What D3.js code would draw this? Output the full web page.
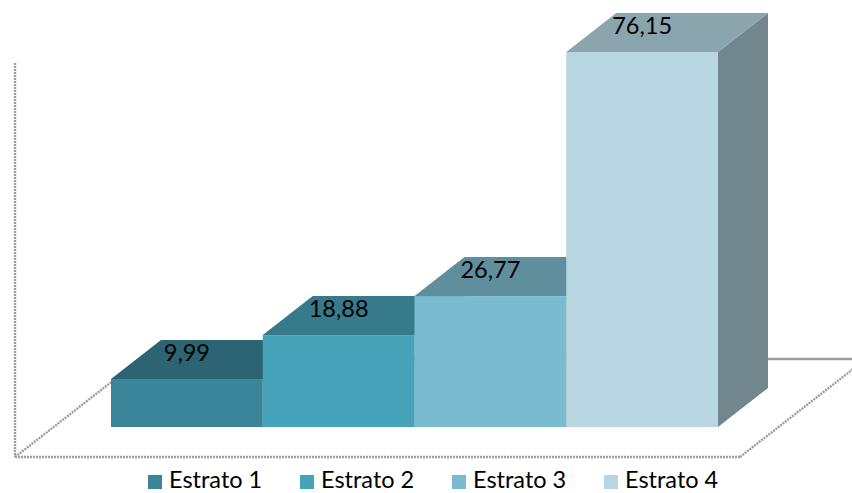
<!DOCTYPE html>
<html>
<head>
<meta charset="utf-8">
<script src="https://cdn.jsdelivr.net/npm/d3@7"></script>
<style>
  html, body { margin: 0; padding: 0; background: #ffffff; }
  svg { display: block; }
  text { font-family: Lato, "Open Sans", sans-serif; fill: #000; }
</style>
</head>
<body>
<svg id="chart" width="852" height="493"></svg>
<script>
const categories = ["Estrato 1", "Estrato 2", "Estrato 3", "Estrato 4"];
const values = [9.99, 18.88, 26.77, 76.15];
const valueLabels = ["9,99", "18,88", "26,77", "76,15"];
const frontColors = ["#3b8599", "#47a3ba", "#7bbbd0", "#b7d6e1"];
const topColors = ["#2c6474", "#377a8b", "#5f8f9d", "#8ba5af"];
const sideColors = ["#2a5d6b", "#35788a", "#5e8a98", "#71878d"];

const W = 852, H = 493;
const svg = d3.select("#chart");

// oblique depth offset
const dx = 50, dy = 39;
const base = 427;

const x = d3.scaleBand().domain(categories).range([111, 718]).padding(0);
const y = d3.scaleLinear().domain([0, 80]).range([428.4, 33]);

// floor & axis
const floorDepthX = 126, floorDepthY = 98;
const F0 = [15, 457], F1 = [740, 457];
const B0 = [F0[0] + floorDepthX, F0[1] - floorDepthY];
const B1 = [F1[0] + floorDepthX, F1[1] - floorDepthY];
const gridColor = "#9c9c9c";
const lines = [
  [F0, F1], [F0, B0], [F1, B1], [B0, B1], [[15, 63], F0]
];
svg.append("g").selectAll("line").data(lines).join("line")
  .attr("x1", d => d[0][0]).attr("y1", d => d[0][1])
  .attr("x2", d => d[1][0]).attr("y2", d => d[1][1])
  .attr("stroke", gridColor)
  .attr("stroke-width", 2.4)
  .attr("stroke-dasharray", (d, i) => i === 3 ? null : "2,1");

// bars
const bars = svg.append("g").selectAll("g").data(categories).join("g");
bars.each(function (c, i) {
  const g = d3.select(this);
  const x0 = x(c), x1 = x(c) + x.bandwidth();
  const yt = y(values[i]);
  // side
  g.append("polygon")
    .attr("points", [[x1, yt], [x1 + dx, yt - dy], [x1 + dx, base - dy], [x1, base]].map(p => p.join(",")).join(" "))
    .attr("fill", sideColors[i]);
  // top
  g.append("polygon")
    .attr("points", [[x0, yt], [x0 + dx, yt - dy], [x1 + dx, yt - dy], [x1, yt]].map(p => p.join(",")).join(" "))
    .attr("fill", topColors[i]);
  // front
  g.append("rect")
    .attr("x", x0).attr("y", yt)
    .attr("width", x.bandwidth()).attr("height", base - yt)
    .attr("fill", frontColors[i]);
});

// value labels
svg.append("g").selectAll("text").data(categories).join("text")
  .attr("x", c => x(c) + x.bandwidth() / 2)
  .attr("y", (c, i) => y(values[i]) - dy + 21)
  .attr("text-anchor", "middle")
  .attr("font-size", 23.5)
  .text((c, i) => valueLabels[i]);

// legend
const legend = svg.append("g").selectAll("g").data(categories).join("g")
  .attr("transform", (c, i) => `translate(${148 + i * 152},0)`);
legend.append("rect")
  .attr("x", 0).attr("y", 475).attr("width", 14).attr("height", 14)
  .attr("fill", (c, i) => frontColors[i]);
legend.append("text")
  .attr("x", 21).attr("y", 488)
  .attr("font-size", 23.5)
  .text(c => c);
</script>
</body>
</html>
